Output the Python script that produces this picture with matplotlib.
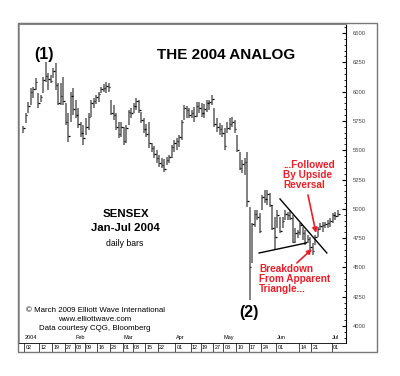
import numpy as np
import pandas as pd
import matplotlib
matplotlib.use("Agg")
import matplotlib.pyplot as plt
from matplotlib.patches import Rectangle
from matplotlib.ticker import MultipleLocator

plt.rcParams['font.family'] = ['Liberation Sans', 'DejaVu Sans']

RED = '#e8202a'
W, H = 400, 376  # figure size in px

# BSE trading calendar, Jan 1 - Jul 5 2004
holidays = ['2004-01-26', '2004-02-02', '2004-03-02', '2004-03-30',
            '2004-04-09', '2004-04-14', '2004-04-26']
dates = pd.bdate_range('2004-01-01', '2004-07-05')
dates = dates[~dates.isin(pd.to_datetime(holidays))]

# daily bars
highs = [5706, 5817, 5911, 6030, 6040, 6116, 5988, 5971, 6125, 6253,
         6159, 6142, 6201, 6244, 6073, 6073, 6125, 5903, 5817, 5996,
         6030, 5928, 5860, 5741, 5715, 5775, 5817, 5928, 5945, 5971,
         5997, 6039, 6065, 6082, 6073, 5928, 5886, 5817, 5741, 5741,
         5698, 5715, 5843, 5860, 5903, 5945, 5928, 5826, 5775, 5724,
         5741, 5561, 5536, 5502, 5459, 5434, 5425, 5442, 5459, 5544,
         5587, 5604, 5630, 5758, 5886, 5877, 5860, 5843, 5869, 5911,
         5911, 5903, 5894, 5928, 5928, 5971, 5860, 5775, 5732, 5715,
         5690, 5741, 5775, 5783, 5758, 5630, 5485, 5416, 5433, 5485,
         5015, 4879, 4990, 4990, 4964, 5118, 5160, 5160, 5135, 5032,
         4930, 4990, 4930, 4930, 4990, 4973, 4990, 4947, 4836, 4819,
         4879, 4845, 4819, 4776, 4759, 4708, 4776, 4845, 4879, 4887,
         4887, 4904, 4921, 4964, 4973, 4990]
lows = [5647, 5732, 5817, 5886, 5945, 6014, 5860, 5911, 5988, 6082,
        6014, 6073, 6116, 6014, 5886, 5886, 5886, 5715, 5570, 5740,
        5800, 5775, 5690, 5613, 5544, 5630, 5672, 5783, 5860, 5894,
        5911, 5988, 5997, 5988, 5997, 5800, 5758, 5672, 5604, 5613,
        5544, 5561, 5715, 5775, 5817, 5843, 5817, 5732, 5647, 5613,
        5519, 5485, 5434, 5391, 5357, 5348, 5314, 5374, 5391, 5434,
        5485, 5502, 5527, 5587, 5758, 5775, 5775, 5775, 5741, 5783,
        5817, 5783, 5775, 5826, 5843, 5886, 5698, 5655, 5630, 5613,
        5502, 5647, 5672, 5698, 5647, 5485, 5331, 5305, 5288, 5015,
        4222, 4538, 4845, 4904, 4793, 4990, 5050, 5032, 5015, 4819,
        4648, 4836, 4793, 4836, 4904, 4904, 4904, 4708, 4708, 4751,
        4776, 4734, 4691, 4708, 4648, 4606, 4691, 4759, 4819, 4802,
        4836, 4836, 4845, 4879, 4904, 4930]
closes = [5690, 5800, 5880, 6000, 6020, 6080, 5900, 5950, 6100, 6130,
          6110, 6090, 6180, 6060, 5900, 5960, 5920, 5740, 5620, 5960,
          5850, 5800, 5720, 5650, 5600, 5700, 5780, 5900, 5920, 5950,
          5980, 6020, 6030, 6050, 6040, 5820, 5800, 5700, 5640, 5700,
          5580, 5690, 5830, 5820, 5880, 5920, 5840, 5760, 5680, 5640,
          5560, 5520, 5470, 5430, 5390, 5370, 5340, 5420, 5440, 5530,
          5560, 5580, 5610, 5740, 5860, 5840, 5800, 5820, 5790, 5880,
          5860, 5820, 5850, 5900, 5910, 5940, 5720, 5700, 5680, 5650,
          5540, 5690, 5720, 5740, 5680, 5500, 5350, 5380, 5400, 5070,
          4505, 4870, 4960, 4930, 4810, 5100, 5080, 5130, 5030, 4840,
          4760, 4950, 4810, 4900, 4960, 4950, 4920, 4720, 4790, 4800,
          4860, 4790, 4720, 4740, 4670, 4640, 4760, 4830, 4850, 4860,
          4870, 4880, 4900, 4950, 4940, 4960]

day_dates = ['2004-01-02', '2004-01-12', '2004-01-19', '2004-01-27', '2004-02-03',
             '2004-02-09', '2004-02-16', '2004-02-23', '2004-03-01', '2004-03-08',
             '2004-03-15', '2004-03-22', '2004-04-01', '2004-04-12', '2004-04-19',
             '2004-04-27', '2004-05-03', '2004-05-10', '2004-05-17', '2004-05-24',
             '2004-06-01', '2004-06-14', '2004-06-21', '2004-07-01']
day_labels = ['02', '12', '19', '27', '03', '09', '16', '23', '01', '08', '15', '22',
              '01', '12', '19', '27', '03', '10', '17', '24', '01', '14', '21', '01']
month_dates = ['2004-01-02', '2004-02-03', '2004-03-01', '2004-04-01',
               '2004-05-03', '2004-06-01', '2004-07-01']
month_labels = ['2004', 'Feb', 'Mar', 'Apr', 'May', 'Jun', 'Jul']
price_ticks = [4000, 4250, 4500, 4750, 5000, 5250, 5500, 5750, 6000, 6250, 6500]


def fx(px):
    return px / W


def fy(py):
    return 1 - py / H


def date_idx(d):
    return dates.get_loc(pd.Timestamp(d))


assert len(dates) == len(highs) == len(lows) == len(closes)
x = np.arange(len(dates))

fig = plt.figure(figsize=(W / 100, H / 100), dpi=100)
ax = fig.add_axes([fx(19), fy(343), fx(346) - fx(19), fy(24) - fy(343)])

# HLC bars
ax.vlines(x, lows, highs, color='#666666', lw=1.15)
ax.hlines(closes, x, x + 0.65, color='black', lw=0.9)

ax.set_xlim(-1.6, 128.2)
ax.set_ylim(3855, 6577)
ax.set_xticks([])
ax.yaxis.tick_right()
ax.set_yticks(price_ticks)
ax.yaxis.set_minor_locator(MultipleLocator(50))
ax.tick_params(axis='y', which='major', direction='in', length=3, width=0.8,
               labelsize=4.2, labelcolor='#444444', pad=5)
ax.tick_params(axis='y', which='minor', direction='in', length=1.5, width=0.6)
ax.spines['left'].set_color('#999999')
ax.spines['left'].set_linewidth(1.2)
ax.spines['top'].set_color('#888888')
ax.spines['top'].set_linewidth(1.5)
ax.spines['right'].set_linewidth(0.8)
ax.spines['bottom'].set_linewidth(0.6)

# triangle and arrows
ax.plot([102.0, 120.6], [5084, 4623], color='black', lw=1)
ax.plot([93.7, 112.3], [4623, 4708], color='black', lw=1)
arrow = dict(arrowstyle='-|>', color=RED, lw=1.2, mutation_scale=7, shrinkA=0, shrinkB=0)
ax.annotate('', xy=(116.3, 4794), xytext=(113.1, 5118), arrowprops=arrow)
ax.annotate('', xy=(114.7, 4657), xytext=(108.7, 4538), arrowprops=arrow)

# date strip below the chart
strip = fig.add_axes([fx(19), fy(352), fx(346) - fx(19), fy(343) - fy(352)])
strip.set_xlim(ax.get_xlim())
strip.set_ylim(0, 1)
strip.axis('off')
for d, lab in zip(day_dates, day_labels):
    sx = date_idx(d) - 0.5
    strip.vlines(sx, 0, 1, color='black', lw=0.5)
    strip.text(sx + 0.5, 0.45, lab, fontsize=3.9, ha='left', va='center')
for d, lab in zip(month_dates, month_labels):
    ax.text(date_idx(d) - 0.3, 0.008, lab, fontsize=4, ha='left', va='bottom',
            transform=ax.get_xaxis_transform())

# outer frame
fig.patches.append(Rectangle((fx(18), fy(352)), fx(377) - fx(18), fy(23) - fy(352),
                             transform=fig.transFigure, fill=False,
                             edgecolor='#777777', lw=1.0))

# labels
fig.text(fx(44), fy(54), '(1)', fontsize=11.5, weight='bold', ha='center', va='center')
fig.text(fx(249), fy(312), '(2)', fontsize=11.5, weight='bold', ha='center', va='center')
fig.text(fx(226), fy(55), 'THE 2004 ANALOG', fontsize=11, weight='bold', ha='center', va='center')
fig.text(fx(126), fy(214), 'SENSEX', fontsize=8.2, weight='bold', ha='center', va='center')
fig.text(fx(125), fy(228), 'Jan-Jul 2004', fontsize=8.2, weight='bold', ha='center', va='center')
fig.text(fx(125), fy(243), 'daily bars', fontsize=6.2, ha='center', va='center')
fig.text(fx(95), fy(310), '\u00a9 March 2009 Elliott Wave International', fontsize=5.7,
         ha='center', va='center')
fig.text(fx(95), fy(319.5), 'www.elliottwave.com', fontsize=5.7, ha='center', va='center')
fig.text(fx(95), fy(329), 'Data courtesy CQG, Bloomberg', fontsize=5.7, ha='center', va='center')
fig.text(fx(283), fy(160), '...Followed\nBy Upside\nReversal', color=RED, fontsize=7.2,
         weight='bold', ha='left', va='top', linespacing=1.0)
fig.text(fx(259), fy(264), 'Breakdown\nFrom Apparent\nTriangle...', color=RED, fontsize=7.2,
         weight='bold', ha='left', va='top', linespacing=1.0)

fig.savefig('out.png', dpi=100)
